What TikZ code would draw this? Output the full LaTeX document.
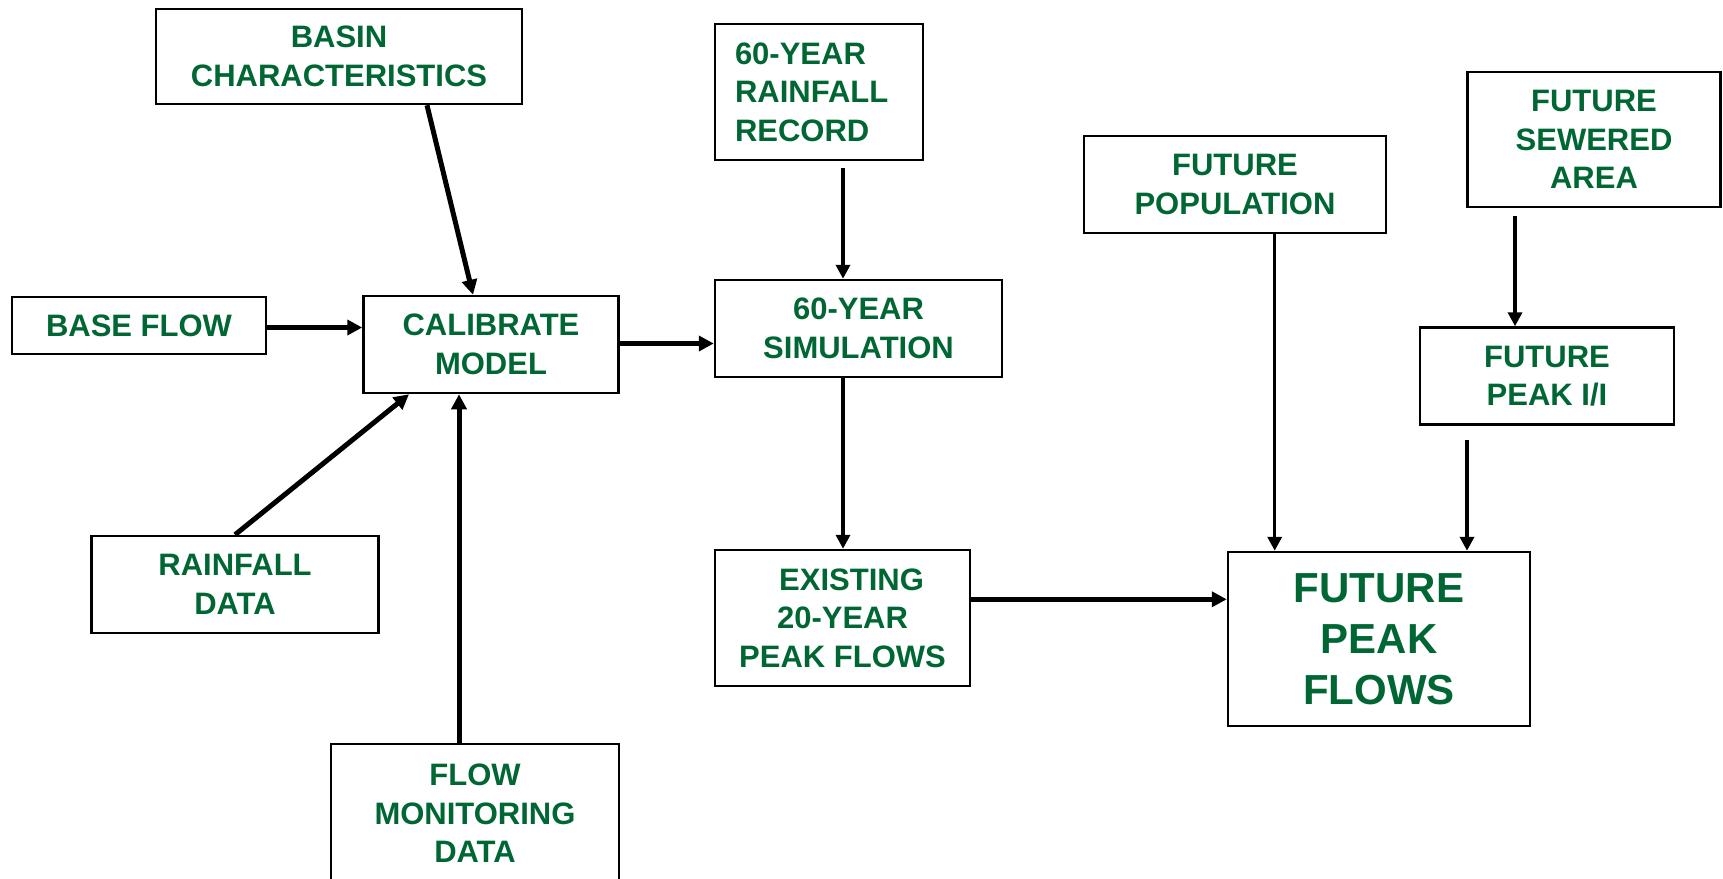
\documentclass[tikz,border=0pt]{standalone}
\usepackage{fontspec}
\setmainfont{Liberation Sans}
\usetikzlibrary{arrows.meta}
\definecolor{tgreen}{RGB}{0,102,51}
\begin{document}
\begin{tikzpicture}[x=1pt,y=-1pt,
  box/.style={draw, line width=2.5pt, text=tgreen, font=\bfseries\fontsize{31}{38.5}\selectfont, align=center, inner sep=0pt},
  bigbox/.style={box, font=\bfseries\fontsize{42}{51}\selectfont},
  arrA/.style={line width=5pt, -{Triangle[length=15pt,width=15pt]}},
  arrB/.style={line width=3.5pt, -{Triangle[length=14pt,width=14pt]}}]
\useasboundingbox (0,0) rectangle (1723,878);

\node[box, minimum width=366pt, minimum height=95pt] (basin) at (339,56.5) {BASIN\\CHARACTERISTICS};
\node[box, minimum width=254pt, minimum height=57pt] (base) at (139,325.5) {BASE FLOW};
\node[box, minimum width=255pt, minimum height=97pt] (calib) at (491,344.5) {CALIBRATE\\MODEL};
\node[box, minimum width=287pt, minimum height=97pt] (rain) at (235,584.5) {RAINFALL\\DATA};
\node[box, minimum width=288pt, minimum height=139pt] (flow) at (475,813.5) {FLOW\\MONITORING\\DATA};
\node[box, align=left, text width=168pt, inner xsep=20pt, minimum height=136pt] (record) at (819,92) {60-YEAR\\RAINFALL\\RECORD};
\node[box, minimum width=287pt, minimum height=97pt] (sim) at (858.5,328.5) {60-YEAR\\SIMULATION};
\node[box, minimum width=255pt, minimum height=136pt] (exist) at (842.5,618) {\hspace*{18pt}EXISTING\\20-YEAR\\PEAK FLOWS};
\node[box, minimum width=302pt, minimum height=97pt] (pop) at (1235,184.5) {FUTURE\\POPULATION};
\node[box, minimum width=253pt, minimum height=135pt] (sewer) at (1594,139.5) {FUTURE\\SEWERED\\AREA};
\node[box, minimum width=254pt, minimum height=97pt] (peakii) at (1547,376) {FUTURE\\PEAK I/I};
\node[bigbox, minimum width=302pt, minimum height=174pt] (fpf) at (1379,639) {FUTURE\\PEAK\\FLOWS};

\coordinate (recgap) at (843,168);
\coordinate (sewgap) at (1515,216);
\coordinate (iigap) at (1467,440);

\draw[arrA] ([xshift=88pt]basin.south) -- ([xshift=-18pt]calib.north);
\draw[arrA] ([yshift=-2pt]base.east) -- ([yshift=-2pt]base.east -| calib.west);
\draw[arrA] (rain.north) -- ([xshift=-82pt]calib.south);
\draw[arrA] ([xshift=-16pt]flow.north) -- ([xshift=-16pt]flow.north |- calib.south);
\draw[arrA] ([yshift=1pt]calib.east) -- ([yshift=1pt]calib.east -| sim.west);
\draw[arrB] (recgap) -- (recgap |- sim.north);
\draw[arrB] ([xshift=-15.5pt]sim.south) -- ([xshift=-15.5pt]sim.south |- exist.north);
\draw[arrA] ([yshift=18.7pt]exist.east) -- ([yshift=18.7pt]exist.east -| fpf.west);
\draw[arrB] ([xshift=39.7pt]pop.south) -- ([xshift=39.7pt]pop.south |- fpf.north);
\draw[arrB] (sewgap) -- (sewgap |- peakii.north);
\draw[arrB] (iigap) -- (iigap |- fpf.north);
\end{tikzpicture}
\end{document}
